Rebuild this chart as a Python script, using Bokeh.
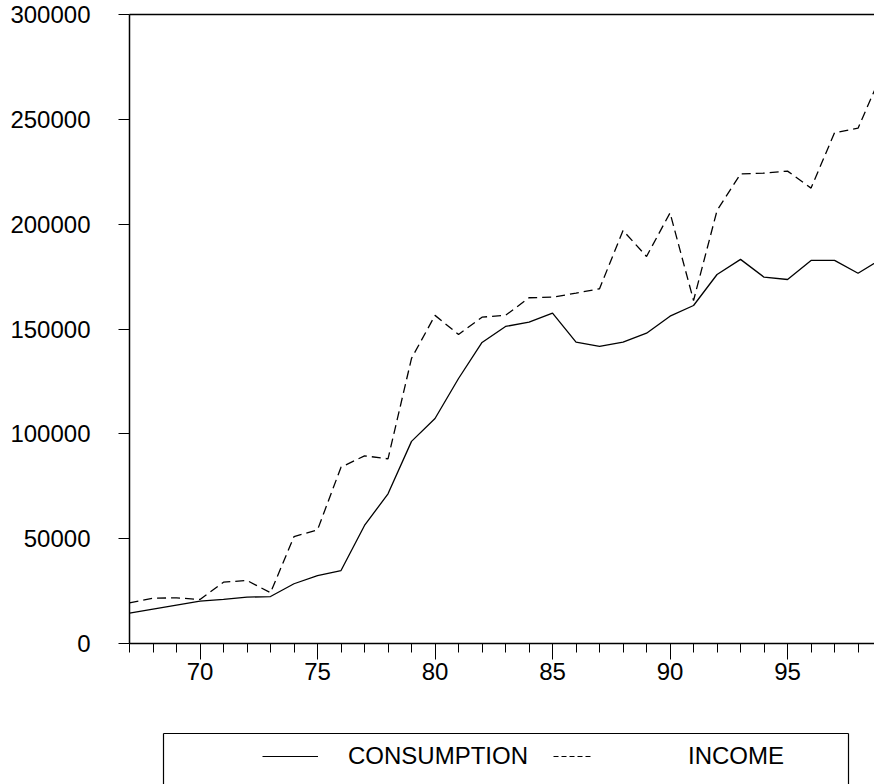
from bokeh.plotting import figure
from bokeh.models import (Range1d, FixedTicker, LinearAxis, Legend, LegendItem,
                          BasicTickFormatter)
from bokeh.layouts import column
from bokeh.embed import file_html
from bokeh.resources import INLINE

# ---------------- data ----------------
years = [1967, 1968, 1969, 1970, 1971, 1972, 1973, 1974, 1975, 1976, 1977,
         1978, 1979, 1980, 1981, 1982, 1983, 1984, 1985, 1986, 1987, 1988,
         1989, 1990, 1991, 1992, 1993, 1994, 1995, 1996, 1997, 1998, 1999]
consumption = [14500, 16400, 18300, 20200, 21000, 22100, 22400, 28500, 32400,
               34800, 56300, 71400, 96400, 107300, 126400, 143600, 151200,
               153300, 157600, 143700, 141700, 143700, 148000, 156100, 161200,
               176000, 183200, 174700, 173600, 182700, 182700, 176600, 183500]
income = [19400, 21600, 21800, 21000, 29250, 30050, 24200, 51000, 54200,
          84100, 89500, 88100, 136000, 156500, 147400, 155650, 156500,
          164900, 165200, 167100, 169200, 197000, 184600, 205400, 163600,
          206500, 224000, 224300, 225300, 217200, 243600, 245800, 271500]
x_major_ticks = [1970, 1975, 1980, 1985, 1990, 1995]
x_tick_labels = ["70", "75", "80", "85", "90", "95"]
y_ticks = [0, 50000, 100000, 150000, 200000, 250000, 300000]
series_names = ["CONSUMPTION", "INCOME"]

FONT = "Liberation Sans"
FSIZE = "24px"

# ---------------- main chart ----------------
p = figure(width=874, height=732,
           x_range=Range1d(1967, 1998.70), y_range=Range1d(0, 300000),
           x_axis_type=None, y_axis_type=None,
           output_backend="svg", toolbar_location=None,
           min_border_left=129, min_border_right=0,
           min_border_top=14, min_border_bottom=89)
p.frame_align = False
p.outline_line_color = None
p.background_fill_color = "white"
p.border_fill_color = "white"

xaxis = LinearAxis(ticker=FixedTicker(ticks=x_major_ticks, minor_ticks=years),
                   major_label_overrides=dict(zip(x_major_ticks, x_tick_labels)))
xaxis.axis_line_color = "black"
xaxis.axis_line_width = 1.5
xaxis.major_tick_out = 16
xaxis.major_tick_in = 0
xaxis.minor_tick_out = 9
xaxis.minor_tick_in = 0
xaxis.major_tick_line_color = "black"
xaxis.minor_tick_line_color = "black"
xaxis.major_label_standoff = 3
xaxis.major_label_text_font = FONT
xaxis.major_label_text_font_size = FSIZE
xaxis.major_label_text_color = "black"
p.add_layout(xaxis, "below")

yaxis = LinearAxis(ticker=FixedTicker(ticks=y_ticks),
                   formatter=BasicTickFormatter(use_scientific=False))
yaxis.axis_line_color = "black"
yaxis.axis_line_width = 1.5
yaxis.major_tick_out = 11
yaxis.major_tick_in = 0
yaxis.minor_tick_out = 0
yaxis.minor_tick_in = 0
yaxis.major_tick_line_color = "black"
yaxis.major_label_standoff = 28
yaxis.major_label_text_font = FONT
yaxis.major_label_text_font_size = FSIZE
yaxis.major_label_text_color = "black"
p.add_layout(yaxis, "left")

topaxis = LinearAxis(ticker=FixedTicker(ticks=[]), major_label_standoff=0,
                     major_tick_out=0, major_tick_in=0, minor_tick_out=0,
                     minor_tick_in=0, major_label_text_font_size="0px")
topaxis.axis_line_color = "black"
topaxis.axis_line_width = 1.5
p.add_layout(topaxis, "above")

p.line(years, consumption, line_color="black", line_width=1.3)
p.line(years, income, line_color="black", line_width=1.3, line_dash="9 5")

# ---------------- legend box (its frame is the box) ----------------
p2 = figure(width=874, height=52, x_range=Range1d(0, 1), y_range=Range1d(0, 1),
            x_axis_type=None, y_axis_type=None,
            output_backend="svg", toolbar_location=None,
            min_border_left=163, min_border_right=26,
            min_border_top=1, min_border_bottom=0)
p2.frame_align = False
p2.outline_line_color = None
p2.background_fill_color = "white"
p2.border_fill_color = "white"

for side in ("left", "right", "above"):
    ax = LinearAxis(ticker=FixedTicker(ticks=[]), major_label_standoff=0,
                    major_tick_out=0, major_tick_in=0, minor_tick_out=0,
                    minor_tick_in=0, major_label_text_font_size="0px")
    ax.axis_line_color = "black"
    ax.axis_line_width = 1.2
    p2.add_layout(ax, side)

# swatch renderers carry the series (they fall outside this box's ranges)
s1 = p2.line(years, consumption, line_color="black", line_width=1.2)
s2 = p2.line(years, income, line_color="black", line_width=1.2, line_dash="5 3")

def make_legend(label, renderer, loc, gw, standoff):
    return Legend(items=[LegendItem(label=label, renderers=[renderer])],
                  location=loc, orientation="horizontal",
                  glyph_width=gw, glyph_height=30, label_height=30,
                  label_standoff=standoff, padding=0, margin=0,
                  border_line_alpha=0, background_fill_alpha=0,
                  label_text_font=FONT, label_text_font_size=FSIZE,
                  label_text_color="black")

p2.add_layout(make_legend(series_names[0], s1, (99, 13), 56, 30))
p2.add_layout(make_legend(series_names[1], s2, (390, 13), 39, 96))

layout = column(p, p2)
open("out.html", "w").write(file_html(layout, INLINE))
